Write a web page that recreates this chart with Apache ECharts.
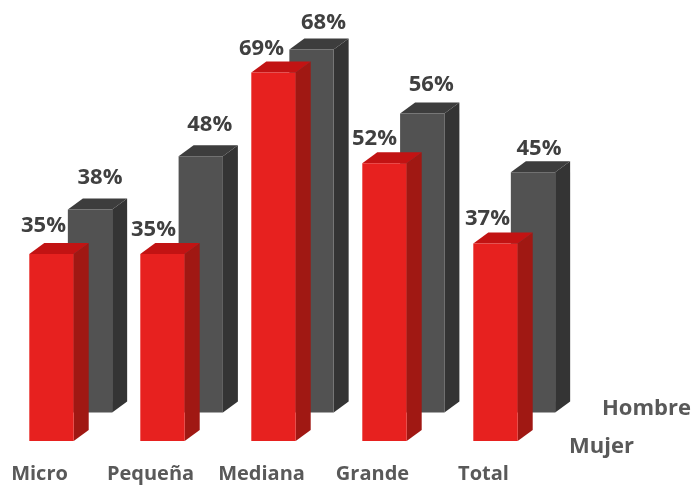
<!DOCTYPE html>
<html>
<head>
<meta charset="utf-8">
<style>html,body{margin:0;padding:0;background:#fff}#c{width:691px;height:485px}</style>
<script src="https://cdn.jsdelivr.net/npm/echarts@6/dist/echarts.min.js"></script>
</head>
<body>
<div id="c"></div>
<script>
const categories = ['Micro', 'Pequeña', 'Mediana', 'Grande', 'Total'];
const mujer = [35, 35, 69, 52, 37];
const hombre = [38, 48, 68, 56, 45];
const seriesNames = ['Mujer', 'Hombre'];

const FONT = '"Open Sans", "Noto Sans", sans-serif';
const BAR_FRACTION = 0.4, DX = 15, DY = 11;
const redColors = { front: '#e7211f', side: '#a01813', top: '#c21313' };
const grayColors = { front: '#525252', side: '#343434', top: '#3d3d3d' };
// label nudges in px: horizontal from the bar centre, vertical above the bar top
const redNudge = [[-8, 28], [-9, 24], [-12, 24], [-10, 25], [-8, 25]];
const grayNudge = [[10, 32], [9, 31], [12, 27], [9, 29], [6, 23]];

function bar3d(colors, nudge) {
  return function (params, api) {
    const i = api.value(0), v = api.value(1);
    const top = api.coord([i, v]), base = api.coord([i, 0]);
    const w = api.size([1, 0])[0] * BAR_FRACTION;
    const l = top[0] - w / 2, r = top[0] + w / 2, t = top[1], b = base[1];
    const n = nudge[params.dataIndex];
    return {
      type: 'group',
      children: [
        { type: 'polygon', shape: { points: [[r, t], [r + DX, t - DY], [r + DX, b - DY], [r, b]] }, style: { fill: colors.side } },
        { type: 'polygon', shape: { points: [[l, t], [l + DX, t - DY], [r + DX, t - DY], [r, t]] }, style: { fill: colors.top } },
        { type: 'rect', shape: { x: l, y: t, width: w, height: b - t }, style: { fill: colors.front } },
        { type: 'text', z2: 10, style: { x: top[0] + n[0], y: t - n[1], text: v + '%', fill: '#404040', font: '700 22px ' + FONT, align: 'center', verticalAlign: 'middle' } }
      ]
    };
  };
}

const chart = echarts.init(document.getElementById('c'), null, { renderer: 'canvas' });
chart.setOption({
  animation: false,
  backgroundColor: '#fff',
  grid: [
    { left: 51.5, top: 40.5, width: 444, height: 400.5 },
    { left: 90, top: 12, width: 443, height: 400.5 }
  ],
  xAxis: [
    { gridIndex: 0, type: 'category', data: categories, boundaryGap: false,
      axisLine: { show: false }, axisTick: { show: false },
      axisLabel: { interval: 0, hideOverlap: false, margin: 23, padding: [0, 24, 0, 0], color: '#595959', fontFamily: FONT, fontWeight: 700, fontSize: 20 } },
    { gridIndex: 1, type: 'category', data: categories, boundaryGap: false, show: false }
  ],
  yAxis: [
    { gridIndex: 0, type: 'value', min: 0, max: 75, show: false },
    { gridIndex: 1, type: 'value', min: 0, max: 75, show: false }
  ],
  series: [
    { name: seriesNames[1], type: 'custom', xAxisIndex: 1, yAxisIndex: 1, z: 1, clip: false,
      renderItem: bar3d(grayColors, grayNudge), data: hombre.map((v, i) => [i, v]) },
    { name: seriesNames[0], type: 'custom', xAxisIndex: 0, yAxisIndex: 0, z: 2, clip: false,
      renderItem: bar3d(redColors, redNudge), data: mujer.map((v, i) => [i, v]) }
  ],
  graphic: [
    { type: 'text', left: 569, top: 436, style: { text: seriesNames[0], fill: '#595959', font: '700 22px ' + FONT } },
    { type: 'text', left: 602, top: 398, style: { text: seriesNames[1], fill: '#595959', font: '700 22px ' + FONT } }
  ]
});
</script>
</body>
</html>
